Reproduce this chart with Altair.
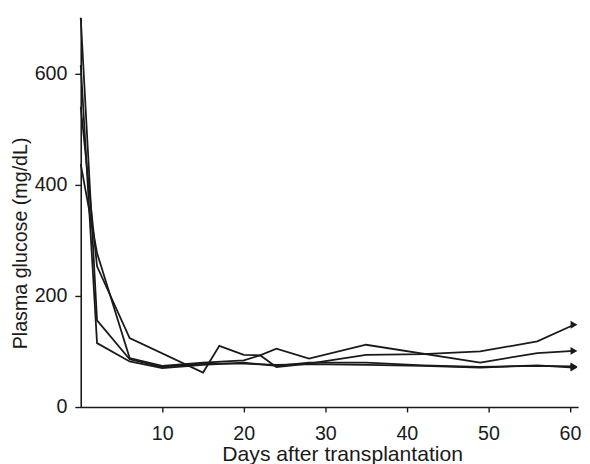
import altair as alt
import pandas as pd

# Days after transplantation and plasma glucose (mg/dL) for four recipients
days_a = [0, 2, 6, 10, 15, 20, 24, 28, 35, 42, 49, 56, 60.5]
glucose_a = [700, 156, 86, 72, 78, 78, 76, 77, 76, 74, 71, 75, 71]

days_b = [0, 2, 6, 10, 15, 20, 24, 28, 35, 42, 49, 56, 60.5]
glucose_b = [615, 115, 82, 70, 76, 80, 74, 80, 80, 75, 72, 74, 73]

days_c = [0, 2, 6, 15, 17, 20, 22, 24, 28, 35, 49, 56, 60.5]
glucose_c = [540, 253, 124, 62, 110, 94, 93, 105, 87, 112, 80, 97, 101]

days_d = [0, 2, 6, 10, 15, 20, 22, 24, 28, 35, 42, 49, 56, 60.5]
glucose_d = [437, 277, 88, 74, 80, 84, 93, 72, 78, 94, 95, 100, 118, 148]

x_ticks = [10, 20, 30, 40, 50, 60]
y_ticks = [0, 200, 400, 600]

rows = []
for name, ds, gs in [("A", days_a, glucose_a), ("B", days_b, glucose_b),
                     ("C", days_c, glucose_c), ("D", days_d, glucose_d)]:
    for d, g in zip(ds, gs):
        rows.append({"recipient": name, "day": d, "glucose": g})
df = pd.DataFrame(rows)
ends = df.loc[df.groupby("recipient")["day"].idxmax()].reset_index(drop=True)

FONT = "Liberation Sans"
INK = "#1a1a1a"

x_enc = alt.X("day:Q", scale=alt.Scale(domain=[0, 61], nice=False, zero=False),
              axis=alt.Axis(values=x_ticks, title="Days after transplantation",
                            titleX=266, titleY=54, titleBaseline="alphabetic",
                            titleAlign="center", titleFontSize=21.5))
y_enc = alt.Y("glucose:Q", scale=alt.Scale(domain=[0, 700], nice=False),
              axis=alt.Axis(values=y_ticks, title="Plasma glucose (mg/dL)",
                            titleX=-55, titleY=229, titleAngle=270,
                            titleBaseline="alphabetic", titleAlign="center"))

lines = alt.Chart(df).mark_line(color=INK, strokeWidth=1.8).encode(
    x=x_enc, y=y_enc, detail="recipient:N", order="day:Q")

arrows = alt.Chart(ends).mark_point(shape="triangle-right", filled=True,
                                    color=INK, size=65, opacity=1).encode(
    x="day:Q", y="glucose:Q")

chart = (lines + arrows).properties(
    width=506, height=396,
    autosize=alt.AutoSizeParams(type="none"),
    padding={"left": 74, "top": 6, "right": 4, "bottom": 56},
).configure_view(stroke=None).configure_axis(
    grid=False, domainColor=INK, domainWidth=1.6, tickColor=INK, tickWidth=1.4,
    labelFont=FONT, titleFont=FONT, labelFontSize=20, titleFontSize=20,
    labelColor=INK, titleColor=INK, titleFontWeight="normal",
).configure_axisX(tickSize=5, labelPadding=12).configure_axisY(
    tickSize=6, labelPadding=8)

chart.save("out.html", embed_options={"renderer": "svg", "actions": False})
